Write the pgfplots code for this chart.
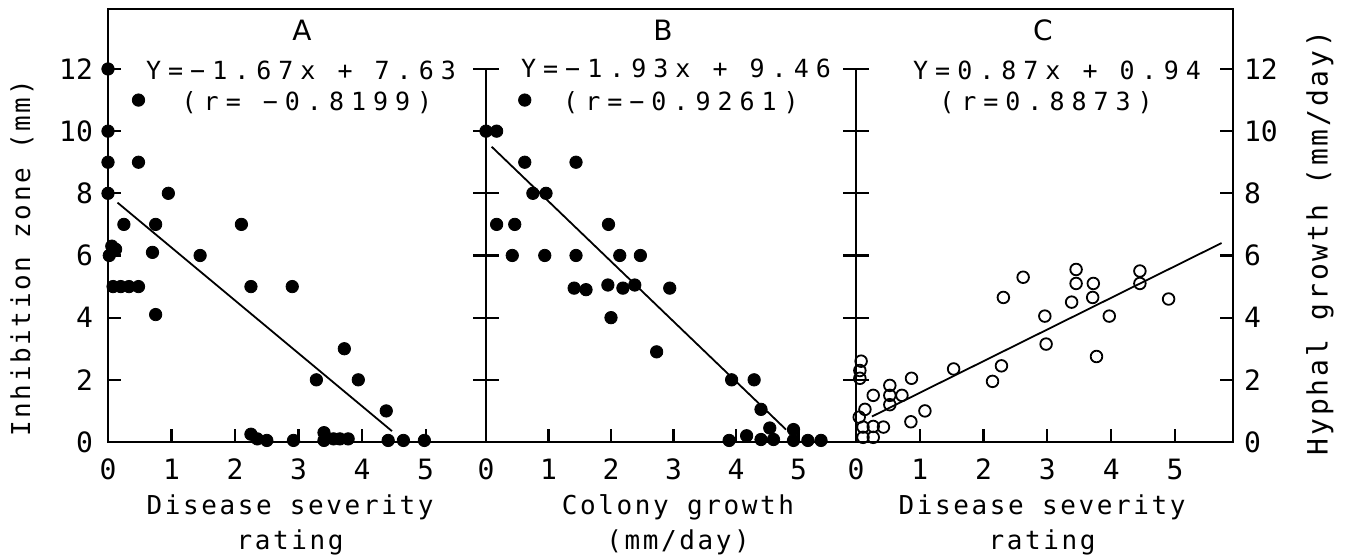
\documentclass[border=0pt]{standalone}
\usepackage{fontspec}
\setmainfont{DejaVu Sans Mono}
\newfontfamily\eqfont{DejaVu Sans Mono}[LetterSpace=28]
\newfontfamily\labfont{DejaVu Sans Mono}[LetterSpace=10]
\newfontfamily\titlefont{DejaVu Sans}
\usepackage{pgfplots}
\pgfplotsset{compat=1.18}

\pgfplotsset{
  panel/.style={
    scale only axis, height=216.5pt, anchor=south west,
    xmin=0, ymin=0, ymax=13.93,
    axis line style={draw=none}, separate axis lines,
    tick align=inside, major tick length=6.5pt,
    tick style={black, line width=1.1pt},
    xtick={0,...,5}, xtick pos=left,
    ytick={0,2,...,12}, ytick pos=both,
    clip=false,
    tick label style={font=\fontsize{14}{16}\selectfont},
    xticklabel style={yshift=-5pt},
    /pgf/number format/assume math mode=true,
  },
  dots/.style={only marks, mark=*, mark size=3.1pt, black},
  rings/.style={only marks, mark=o, mark size=2.9pt, black, mark options={line width=0.9pt}},
  fit/.style={black, line width=0.9pt},
}

\begin{document}
\begin{tikzpicture}
\path[use as bounding box] (0,0) rectangle (673.5pt,280pt);

% A: inhibition zone vs disease severity
\begin{axis}[panel, at={(54pt,59pt)}, width=189pt, xmax=5.95,
  yticklabel pos=left, yticklabel style={xshift=-4pt}]
\addplot[dots] coordinates {
(0,12) (0.48,11) (0,10) (0,9) (0.48,9) (0,8) (0.95,8)
(0.25,7) (0.75,7) (2.1,7)
(0.02,6) (0.06,6.3) (0.12,6.2) (0.7,6.1) (1.45,6)
(0.08,5) (0.2,5) (0.33,5) (0.48,5) (2.25,5) (2.9,5)
(0.75,4.1) (3.72,3) (3.28,2) (3.94,2) (4.38,1)
(2.25,0.25) (2.35,0.1) (2.5,0.05) (2.92,0.05)
(3.4,0.3) (3.4,0.05) (3.55,0.1) (3.65,0.1) (3.78,0.1)
(4.41,0.05) (4.65,0.05) (4.98,0.05)
};
\addplot[fit] coordinates {(0.15,7.7) (4.47,0.35)};
\end{axis}

% B: inhibition zone vs colony growth
\begin{axis}[panel, at={(243pt,59pt)}, width=185pt, xmax=5.92, yticklabels={}]
\addplot[dots] coordinates {
(0,10) (0.17,10) (0.62,11) (0.62,9) (1.44,9) (0.75,8) (0.96,8)
(0.17,7) (0.46,7) (1.96,7)
(0.42,6) (0.94,6) (1.44,6) (2.14,6) (2.47,6)
(1.41,4.95) (1.6,4.9) (1.95,5.05) (2.19,4.95) (2.38,5.05) (2.94,4.95)
(2.0,4) (2.73,2.9) (3.93,2) (4.29,2) (4.4,1.05) (4.54,0.45)
(3.89,0.05) (4.17,0.2) (4.4,0.08) (4.6,0.08) (4.92,0.4) (4.92,0.05)
(5.15,0.05) (5.36,0.05)
};
\addplot[fit] coordinates {(0.09,9.5) (4.8,0.4)};
\end{axis}

% C: hyphal growth vs disease severity
\begin{axis}[panel, at={(428pt,59pt)}, width=188.5pt, xmax=5.91,
  yticklabel pos=right, yticklabel style={xshift=2pt}]
\addplot[rings] coordinates {
(0.08,2.6) (0.06,2.3) (0.06,2.05) (0.14,1.05) (0.05,0.8)
(0.11,0.48) (0.27,0.5) (0.43,0.48) (0.11,0.15) (0.27,0.15)
(0.27,1.5) (0.53,1.82) (0.53,1.5) (0.53,1.2) (0.72,1.5)
(0.87,2.05) (0.86,0.65) (1.08,1.0) (1.53,2.35)
(2.14,1.95) (2.28,2.45) (2.31,4.65) (2.62,5.3)
(2.96,4.05) (2.98,3.15) (3.38,4.5) (3.45,5.55) (3.45,5.1)
(3.72,5.1) (3.71,4.65) (3.77,2.75) (3.97,4.05)
(4.45,5.5) (4.45,5.1) (4.9,4.6)
};
\addplot[fit] coordinates {(0.25,0.82) (5.73,6.4)};
\end{axis}

% frame: continuous outer box, dividers stop at the 12 level
\draw[line width=1.1pt] (54pt,59pt) rectangle (616.5pt,275.5pt);
\draw[line width=1.1pt] (243pt,59pt) -- (243pt,245.5pt);
\draw[line width=1.1pt] (428pt,59pt) -- (428pt,245.5pt);

% panel letters and fits
\node[font=\titlefont\fontsize{14}{16}\selectfont] at (151pt,265pt) {A};
\node[font=\titlefont\fontsize{14}{16}\selectfont] at (331.5pt,265pt) {B};
\node[font=\titlefont\fontsize{14}{16}\selectfont] at (521.5pt,265pt) {C};
\node[font=\eqfont\fontsize{12.5}{14}\selectfont] at (150.5pt,245pt) {Y=−1.67x + 7.63};
\node[font=\eqfont\fontsize{12.5}{14}\selectfont] at (153.5pt,228.5pt) {(r= −0.8199)};
\node[font=\eqfont\fontsize{12.5}{14}\selectfont] at (338pt,246pt) {Y=−1.93x + 9.46};
\node[font=\eqfont\fontsize{12.5}{14}\selectfont] at (340.5pt,228.5pt) {(r=−0.9261)};
\node[font=\eqfont\fontsize{12.5}{14}\selectfont] at (528.5pt,245pt) {Y=0.87x + 0.94};
\node[font=\eqfont\fontsize{12.5}{14}\selectfont] at (523pt,228.5pt) {(r=0.8873)};

% axis titles
\node[font=\labfont\fontsize{13}{17.5}\selectfont, align=center] at (145pt,17.5pt) {Disease severity\\rating};
\node[font=\labfont\fontsize{13}{17.5}\selectfont, align=center] at (339pt,17.5pt) {Colony growth\\(mm/day)};
\node[font=\labfont\fontsize{13}{17.5}\selectfont, align=center] at (521pt,17.5pt) {Disease severity\\rating};
\node[font=\labfont\fontsize{13}{15}\selectfont, rotate=90] at (11pt,151pt) {Inhibition zone (mm)};
\node[font=\labfont\fontsize{14}{16}\selectfont, rotate=90] at (660pt,158.5pt) {Hyphal growth (mm/day)};
\end{tikzpicture}
\end{document}
